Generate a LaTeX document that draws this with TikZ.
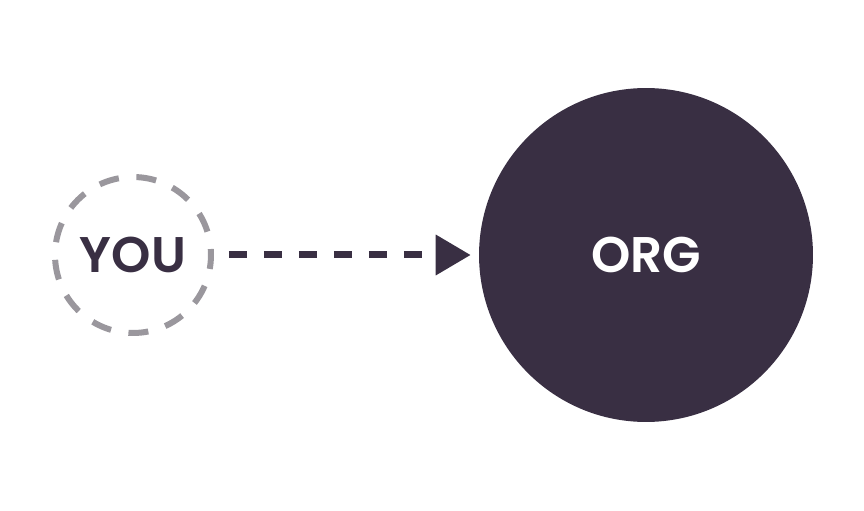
\documentclass[tikz,border=0pt]{standalone}
\usepackage{fontspec}
\setmainfont{Poppins}[BoldFont={* SemiBold}]
\usetikzlibrary{arrows.meta,positioning}
\definecolor{plum}{HTML}{392F43}
\definecolor{ashgray}{HTML}{9A979D}

\begin{document}
\begin{tikzpicture}[x=0.02cm,y=0.02cm,
  word/.style={font=\bfseries\fontsize{28.5}{30}\selectfont},
  self/.style={circle,draw=ashgray,line width=0.12cm,minimum size=3.12cm,
    dash pattern=on 0.4cm off 0.354cm,dash phase=0.28cm,text=plum,word},
  body/.style={circle,fill=plum,minimum size=6.68cm,text=white,word},
  link/.style={plum,line width=0.14cm,dash pattern=on 0.36cm off 0.34cm,
    -{Triangle[length=0.7cm,width=0.78cm]},shorten <=0.3cm,shorten >=0.16cm}]
\useasboundingbox (0,0) rectangle (864,510);
\node[self] (you) at (133,255) {YOU};
\node[body] (org) at (646,255) {ORG};
\draw[link] (you) -- (org);
\end{tikzpicture}
\end{document}
